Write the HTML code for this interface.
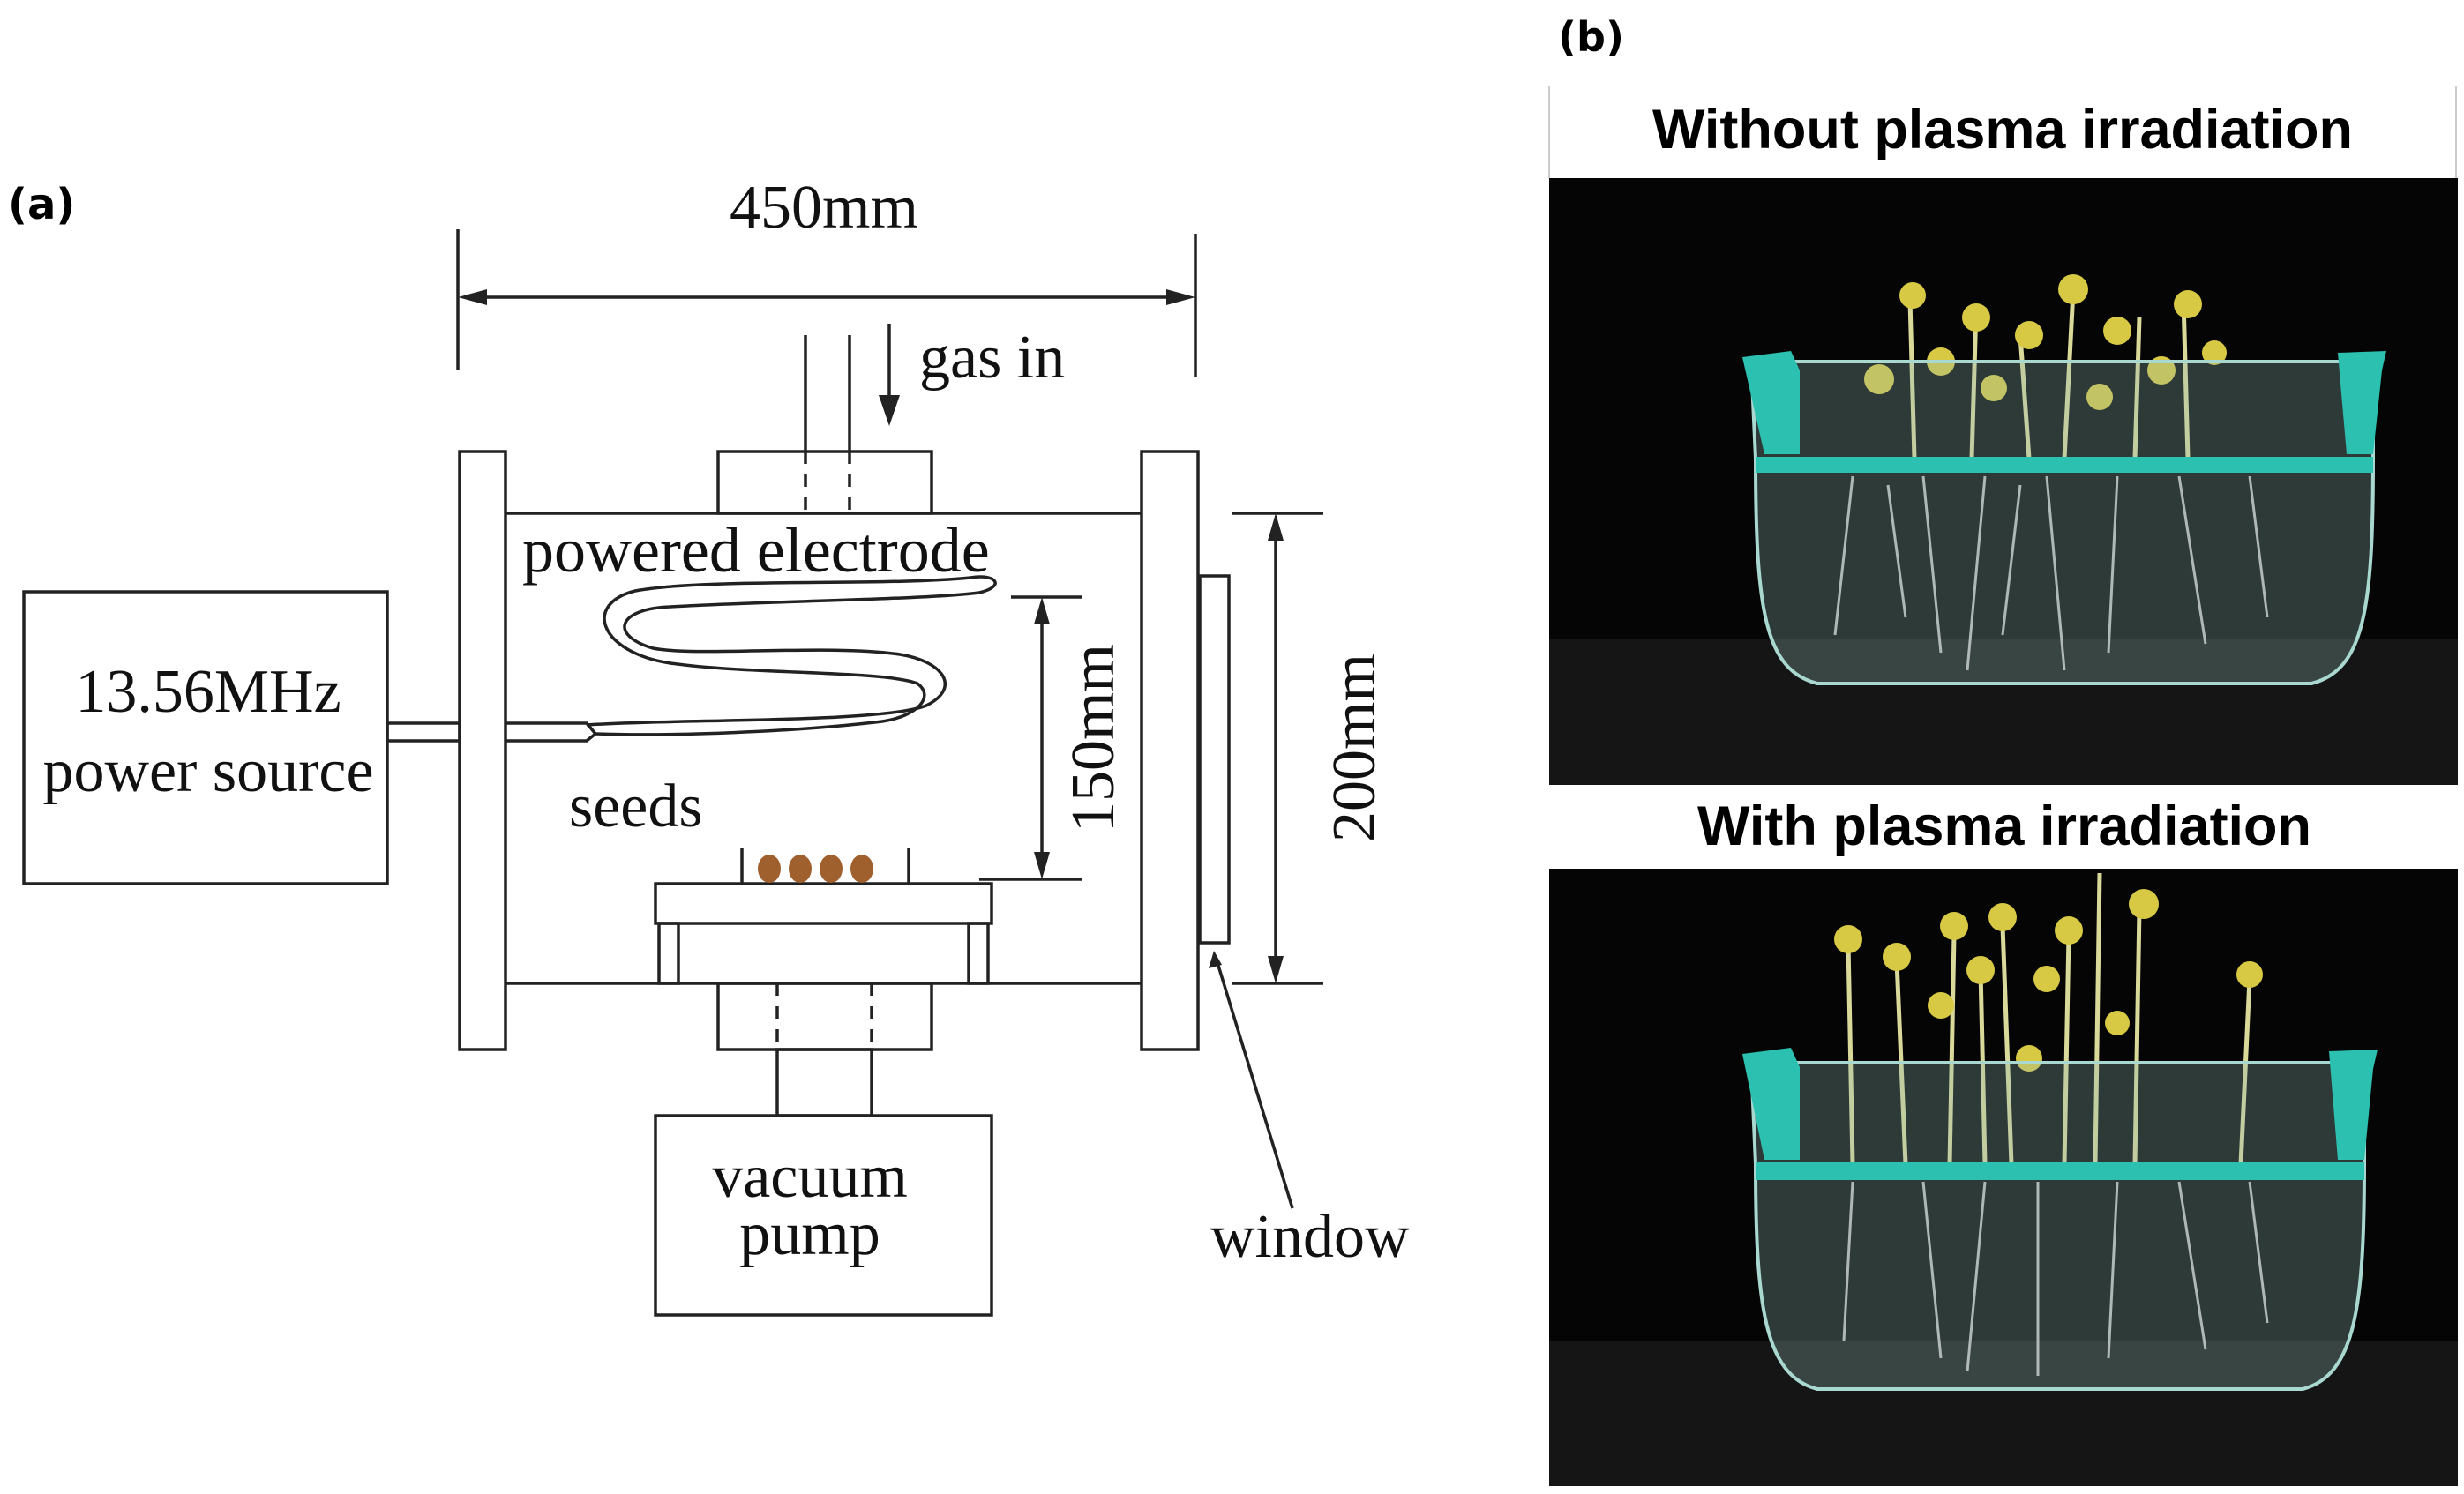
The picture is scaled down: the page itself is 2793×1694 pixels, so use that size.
<!DOCTYPE html>
<html><head><meta charset="utf-8"><style>
html,body{margin:0;padding:0;background:#fff;}
svg{display:block;}
</style></head><body>
<svg width="2793" height="1694" viewBox="0 0 2793 1694" xmlns="http://www.w3.org/2000/svg">
<rect width="2793" height="1694" fill="#fff"/>
<g font-family="Liberation Serif, serif" fill="#111">
<text x="9" y="248" font-family="DejaVu Sans, sans-serif" font-weight="bold" font-size="48" fill="#000">(a)</text>
<text x="934" y="258" font-size="70" text-anchor="middle">450mm</text>
<text x="1042" y="428" font-size="70">gas in</text>
<text x="592" y="648" font-size="72">powered electrode</text>
<text x="236" y="807" font-size="70" text-anchor="middle">13.56MHz</text>
<text x="236" y="897" font-size="70" text-anchor="middle">power source</text>
<text x="645" y="937" font-size="70">seeds</text>
<text x="918" y="1357" font-size="70" text-anchor="middle">vacuum</text>
<text x="918" y="1422" font-size="70" text-anchor="middle">pump</text>
<text x="1372" y="1425" font-size="70">window</text>
<text transform="translate(1262,837) rotate(-90)" font-size="70" text-anchor="middle">150mm</text>
<text transform="translate(1558,848) rotate(-90)" font-size="70" text-anchor="middle">200mm</text>
</g>
<g fill="none" stroke="#222" stroke-width="3.5">
<line x1="519" y1="260" x2="519" y2="420"/>
<line x1="1355" y1="265" x2="1355" y2="428"/>
<line x1="540" y1="337" x2="1335" y2="337"/>
<rect x="521" y="512" width="52" height="678"/>
<rect x="1294" y="512" width="64" height="678"/>
<line x1="573" y1="582" x2="1294" y2="582"/>
<line x1="573" y1="1115" x2="1294" y2="1115"/>
<rect x="814" y="512" width="242" height="70"/>
<line x1="913" y1="380" x2="913" y2="512"/>
<line x1="963" y1="380" x2="963" y2="512"/>
<line x1="913" y1="512" x2="913" y2="582" stroke-dasharray="14,12"/>
<line x1="963" y1="512" x2="963" y2="582" stroke-dasharray="14,12"/>
<line x1="1008" y1="367" x2="1008" y2="455"/>
<rect x="27" y="671" width="412" height="331"/>
<rect x="439" y="820" width="82" height="20"/>
<path d="M573 820 L665 820 L675 832 L665 840 L573 840"/>
<path d="M665 822 C760 815 1000 820 1050 800 C1090 780 1070 750 1020 742 C940 730 790 745 740 735 C690 720 700 690 760 688 C850 682 1050 680 1110 672 C1140 665 1130 650 1100 655 C1000 665 800 655 720 670 C660 685 680 740 760 752 C850 765 1000 760 1040 775 C1060 790 1040 812 1000 818 C900 830 760 835 675 832"/>
<line x1="1146" y1="677" x2="1226" y2="677"/>
<line x1="1110" y1="997" x2="1226" y2="997"/>
<line x1="1181" y1="700" x2="1181" y2="975"/>
<line x1="1396" y1="582" x2="1500" y2="582"/>
<line x1="1396" y1="1115" x2="1500" y2="1115"/>
<line x1="1446" y1="605" x2="1446" y2="1092"/>
<rect x="1360" y="653" width="33" height="416"/>
<line x1="1465" y1="1370" x2="1378" y2="1085"/>
<rect x="743" y="1002" width="381" height="45"/>
<rect x="747" y="1047" width="22" height="68"/>
<rect x="1098" y="1047" width="22" height="68"/>
<line x1="841" y1="962" x2="841" y2="1002"/>
<line x1="1030" y1="962" x2="1030" y2="1002"/>
<rect x="814" y="1115" width="242" height="75"/>
<line x1="881" y1="1115" x2="881" y2="1190" stroke-dasharray="14,12"/>
<line x1="988" y1="1115" x2="988" y2="1190" stroke-dasharray="14,12"/>
<rect x="881" y="1190" width="107" height="75"/>
<rect x="743" y="1265" width="381" height="226"/>
</g>
<g fill="#222">
<polygon points="519,337 552,328 552,346"/>
<polygon points="1355,337 1322,328 1322,346"/>
<polygon points="1008,483 996,448 1020,448"/>
<polygon points="1181,677 1172,708 1190,708"/>
<polygon points="1181,997 1172,966 1190,966"/>
<polygon points="1446,582 1437,613 1455,613"/>
<polygon points="1446,1115 1437,1084 1455,1084"/>
<polygon points="1376,1078 1370,1098 1385,1094"/>
</g>
<g fill="#a0602e">
<ellipse cx="872" cy="985" rx="13" ry="16"/><ellipse cx="907" cy="985" rx="13" ry="16"/>
<ellipse cx="942" cy="985" rx="13" ry="16"/><ellipse cx="977" cy="985" rx="13" ry="16"/>
</g>
<text x="1766" y="58" font-family="DejaVu Sans, sans-serif" font-weight="bold" font-size="46">(b)</text>
<line x1="1756" y1="98" x2="1756" y2="202" stroke="#ccc" stroke-width="2"/>
<line x1="2784" y1="98" x2="2784" y2="202" stroke="#ccc" stroke-width="2"/>
<text x="2270" y="168" font-family="Liberation Sans, sans-serif" font-weight="bold" font-size="63" text-anchor="middle">Without plasma irradiation</text>
<text x="2272" y="958" font-family="Liberation Sans, sans-serif" font-weight="bold" font-size="63" text-anchor="middle">With plasma irradiation</text>
<rect x="1756" y="202" width="1030" height="688" fill="#050505"/>
<rect x="1756" y="725" width="1030" height="165" fill="#151515"/>
<rect x="1756" y="985" width="1030" height="700" fill="#050505"/>
<rect x="1756" y="1521" width="1030" height="164" fill="#151515"/>
<g>
<g stroke="#d9d99a" stroke-width="5" fill="none">
<path d="M2170 520 L2165 340"/><path d="M2235 520 L2240 350"/><path d="M2340 520 L2350 330"/><path d="M2420 520 L2425 360"/><path d="M2480 520 L2475 340"/><path d="M2300 520 L2290 380"/>
</g>
<g fill="#d8c944">
<circle cx="2168" cy="335" r="15"/><circle cx="2240" cy="360" r="16"/><circle cx="2350" cy="328" r="17"/><circle cx="2400" cy="375" r="16"/><circle cx="2480" cy="345" r="16"/><circle cx="2300" cy="380" r="16"/><circle cx="2130" cy="430" r="17"/><circle cx="2200" cy="410" r="16"/><circle cx="2450" cy="420" r="16"/><circle cx="2260" cy="440" r="15"/><circle cx="2380" cy="450" r="15"/><circle cx="2510" cy="400" r="14"/>
</g>
<path d="M1985 410 L2690 410 L2690 520 C2690 690 2680 760 2620 775 L2060 775 C2000 760 1990 690 1990 520 Z" fill="#8fb5b0" fill-opacity="0.3" stroke="#a8d8d0" stroke-width="4"/>
<g stroke="#cfd8d4" stroke-width="3" fill="none" opacity="0.8">
<path d="M2100 540 L2080 720"/><path d="M2180 540 L2200 740"/><path d="M2250 540 L2230 760"/><path d="M2320 540 L2340 760"/><path d="M2400 540 L2390 740"/><path d="M2470 540 L2500 730"/><path d="M2550 540 L2570 700"/><path d="M2140 550 L2160 700"/><path d="M2290 550 L2270 720"/>
</g>
<rect x="1990" y="518" width="700" height="18" fill="#2cc0b0"/>
<path d="M1975 405 L2030 398 L2040 420 L2040 515 L2000 515 Z" fill="#2cc0b0"/>
<path d="M2650 400 L2705 398 L2700 420 L2690 515 L2660 515 Z" fill="#2cc0b0"/>
</g>
<g>
<g stroke="#d9d99a" stroke-width="5" fill="none">
<path d="M2100 1320 L2095 1070"/><path d="M2160 1320 L2150 1090"/><path d="M2210 1320 L2215 1060"/><path d="M2280 1320 L2270 1050"/><path d="M2340 1320 L2345 1060"/><path d="M2375 1320 L2380 990"/><path d="M2420 1320 L2425 1030"/><path d="M2540 1320 L2550 1110"/><path d="M2250 1320 L2245 1100"/>
</g>
<g fill="#d8c944">
<circle cx="2095" cy="1065" r="16"/><circle cx="2150" cy="1085" r="16"/><circle cx="2215" cy="1050" r="16"/><circle cx="2270" cy="1040" r="16"/><circle cx="2345" cy="1055" r="16"/><circle cx="2430" cy="1025" r="17"/><circle cx="2550" cy="1105" r="15"/><circle cx="2245" cy="1100" r="16"/><circle cx="2320" cy="1110" r="15"/><circle cx="2200" cy="1140" r="15"/><circle cx="2400" cy="1160" r="14"/><circle cx="2300" cy="1200" r="15"/>
</g>
<path d="M1985 1205 L2680 1205 L2680 1320 C2680 1480 2670 1560 2610 1575 L2060 1575 C2000 1560 1990 1480 1990 1320 Z" fill="#8fb5b0" fill-opacity="0.3" stroke="#a8d8d0" stroke-width="4"/>
<g stroke="#cfd8d4" stroke-width="3" fill="none" opacity="0.8">
<path d="M2100 1340 L2090 1520"/><path d="M2180 1340 L2200 1540"/><path d="M2250 1340 L2230 1555"/><path d="M2310 1340 L2310 1560"/><path d="M2400 1340 L2390 1540"/><path d="M2470 1340 L2500 1530"/><path d="M2550 1340 L2570 1500"/>
</g>
<rect x="1990" y="1318" width="690" height="20" fill="#2cc0b0"/>
<path d="M1975 1195 L2030 1188 L2040 1210 L2040 1315 L2000 1315 Z" fill="#2cc0b0"/>
<path d="M2640 1192 L2695 1190 L2690 1212 L2680 1315 L2650 1315 Z" fill="#2cc0b0"/>
</g>
</svg>
</body></html>
